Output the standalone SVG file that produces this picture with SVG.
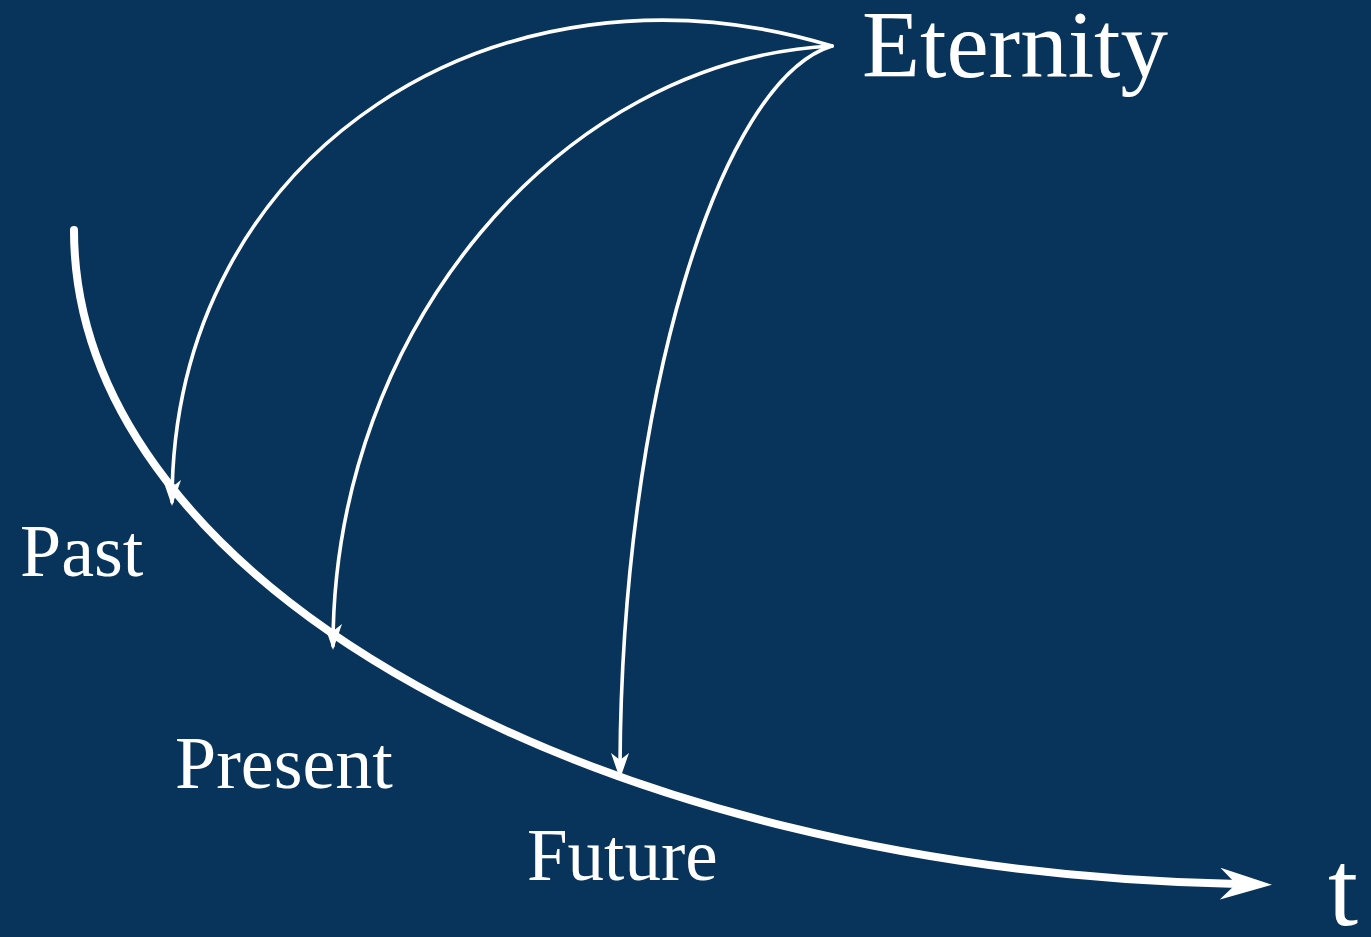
<svg xmlns="http://www.w3.org/2000/svg" width="1371" height="937" viewBox="0 0 1371 937">
<style>
.lbl{font-family:"Liberation Serif","Times New Roman",serif;fill:#fff}
.thin{fill:none;stroke:#fff;stroke-width:3.6;stroke-linecap:round}
.thick{fill:none;stroke:#fff;stroke-width:8;stroke-linecap:round}
</style>
<defs>
<marker id="ah" markerUnits="userSpaceOnUse" viewBox="0 0 26 18" refX="22" refY="9" markerWidth="26" markerHeight="18" orient="auto">
<path d="M0,0 L26,9 L0,18 L7,9 Z" fill="#fff"/>
</marker>
<marker id="ahBig" markerUnits="userSpaceOnUse" viewBox="0 0 52 32" refX="18" refY="16" markerWidth="52" markerHeight="32" orient="auto">
<path d="M0,0 L52,16 L0,32 L16,16 Z" fill="#fff"/>
</marker>
</defs>
<rect width="1371" height="937" fill="#08335a"/>
<g id="connectors">
<path class="thick" d="M74,230 C74,585 600,872 1238,884" marker-end="url(#ahBig)"/>
<path class="thin" d="M832,46 C500,-55 172,150 172,502" marker-end="url(#ah)"/>
<path class="thin" d="M832,46 C560,60 333,330 333,646" marker-end="url(#ah)"/>
<path class="thin" d="M832,46 C720,80 620,400 620,775" marker-end="url(#ah)"/>
</g>
<g id="eternity"><text class="lbl" x="862" y="77" font-size="95">Eternity</text></g>
<g id="past"><text class="lbl" x="20" y="576" font-size="74">Past</text></g>
<g id="present"><text class="lbl" x="175" y="788" font-size="74">Present</text></g>
<g id="future"><text class="lbl" x="527" y="880" font-size="73">Future</text></g>
<g id="t"><text class="lbl" x="1328" y="925" font-size="108">t</text></g>
</svg>
